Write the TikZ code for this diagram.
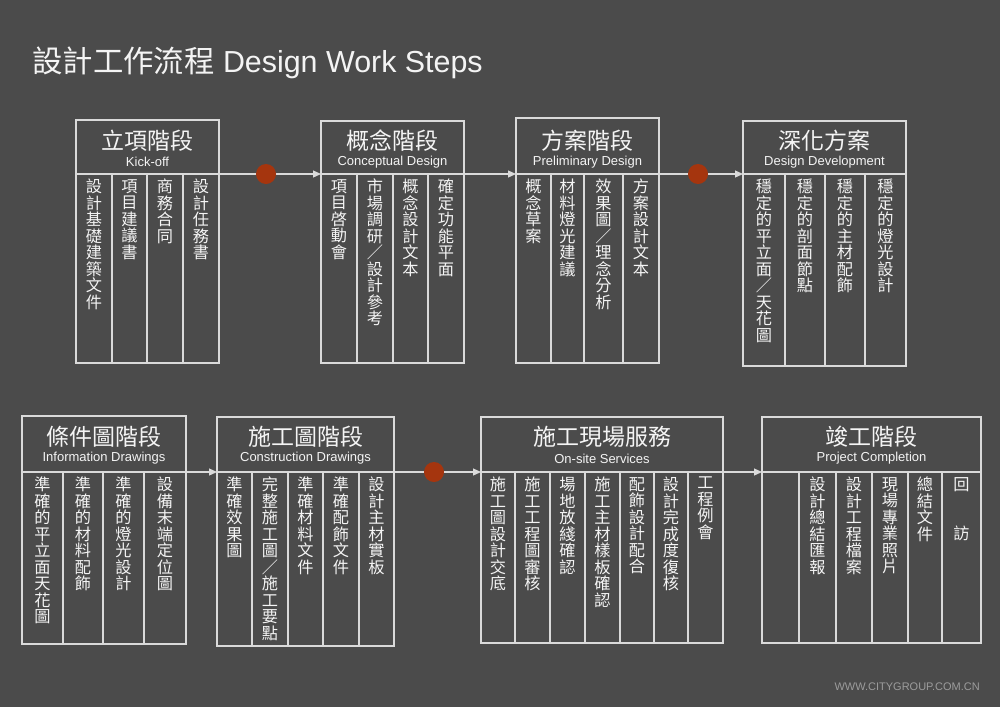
\documentclass[tikz,border=0pt]{standalone}
\usepackage{fontspec}
\setmainfont{Liberation Sans}
\newfontfamily\cjk{Noto Sans CJK TC}
\usetikzlibrary{arrows.meta,fit}
\definecolor{bg}{HTML}{4B4B4B}
\definecolor{ln}{HTML}{DADADA}
\definecolor{tx}{HTML}{F4F4F4}
\definecolor{dotc}{HTML}{A5350E}
\definecolor{ft}{HTML}{9C9C9C}
\def\vt#1{\vtA#1\vtEnd}
\def\vtA#1#2\vtEnd{#1\ifx\relax#2\relax\else\\\vtA#2\vtEnd\fi}
\def\toff{33pt}
\def\soff{12pt}
\tikzset{
  frame/.style={draw=ln, line width=1.2pt, inner sep=0pt},
  rule/.style={draw=ln, line width=1.2pt},
  conn/.style={draw=ln, line width=1.2pt, -{Triangle[length=8pt,width=7pt]}},
  ttl/.style={text=tx, font=\cjk\fontsize{23}{25}\selectfont, inner sep=0pt},
  subt/.style={text=tx, font=\fontsize{13}{15}\selectfont, inner sep=0pt},
  colt/.style={text=tx, font=\cjk\fontsize{16.2}{16.5}\selectfont, align=center, inner sep=0pt, anchor=north},
  reddot/.style={circle, fill=dotc, minimum size=20pt, inner sep=0pt},
}
% name, x1, y1, yh, x2, y2, title, subtitle
\newcommand\stage[8]{%
  \coordinate (#1-nw) at (#2,#3);
  \coordinate (#1-se) at (#5,#6);
  \node[frame, fit=(#1-nw)(#1-se)] (#1) {};
  \coordinate (#1-hl) at (#2,#4);
  \coordinate (#1-hr) at (#5,#4);
  \draw[rule] (#1-hl) -- (#1-hr);
  \node[ttl, yshift=\toff] (#1-title) at (#1.center |- #1-hl) {#7};
  \node[subt, yshift=\soff] (#1-sub) at (#1.center |- #1-hl) {#8};
}
\begin{document}
\begin{tikzpicture}[x=1pt, y=-1pt]
\useasboundingbox (0,0) rectangle (1000,707);
\fill[bg] (0,0) rectangle (1000,707);

\node[anchor=base west, text=tx, inner sep=0pt, font=\fontsize{30.4}{32}\selectfont] (title) at (32,72) {{\cjk 設計工作流程} Design Work Steps};

% ---- row 1 ----
\stage{s1}{76}{120}{174}{219}{363}{立項階段}{Kick-off}
\foreach \x in {112,147,183} \draw[rule] (\x,174) -- (\x,363);
\foreach \xa/\xb/\txt [count=\i] in {76/112/設計基礎建築文件, 112/147/項目建議書, 147/183/商務合同, 183/219/設計任務書}
  \node[colt] (s1-c\i) at ({(\xa+\xb)/2},179) {\expandafter\vt\expandafter{\txt}};

\stage{s2}{321}{121}{174}{464}{363}{概念階段}{Conceptual Design}
\foreach \x in {357,393,428} \draw[rule] (\x,174) -- (\x,363);
\foreach \xa/\xb/\txt [count=\i] in {321/357/項目啓動會, 357/393/市場調研／設計參考, 393/428/概念設計文本, 428/464/確定功能平面}
  \node[colt] (s2-c\i) at ({(\xa+\xb)/2},179) {\expandafter\vt\expandafter{\txt}};

\stage{s3}{516}{118}{174}{659}{363}{方案階段}{Preliminary Design}
\foreach \x in {551,584,623} \draw[rule] (\x,174) -- (\x,363);
\foreach \xa/\xb/\txt [count=\i] in {516/551/概念草案, 551/584/材料燈光建議, 584/623/效果圖／理念分析, 623/659/方案設計文本}
  \node[colt] (s3-c\i) at ({(\xa+\xb)/2},179) {\expandafter\vt\expandafter{\txt}};

\stage{s4}{743}{121}{174}{906}{366}{深化方案}{Design Development}
\foreach \x in {785,825,865} \draw[rule] (\x,174) -- (\x,366);
\foreach \xa/\xb/\txt [count=\i] in {743/785/穩定的平立面／天花圖, 785/825/穩定的剖面節點, 825/865/穩定的主材配飾, 865/906/穩定的燈光設計}
  \node[colt] (s4-c\i) at ({(\xa+\xb)/2},179) {\expandafter\vt\expandafter{\txt}};

\draw[conn] (s1-hr) -- (s2-hl);
\draw[conn] (s2-hr) -- (s3-hl);
\draw[conn] (s3-hr) -- (s4-hl);
\node[reddot] (d1) at (266,174) {};
\node[reddot] (d2) at (698,174) {};

% ---- row 2 ----
\def\toff{35.5pt}
\def\soff{13.5pt}
\stage{s5}{22}{416}{472}{186}{644}{條件圖階段}{Information Drawings}
\foreach \x in {63,103,144} \draw[rule] (\x,472) -- (\x,644);
\foreach \xa/\xb/\txt [count=\i] in {22/63/準確的平立面天花圖, 63/103/準確的材料配飾, 103/144/準確的燈光設計, 144/186/設備末端定位圖}
  \node[colt] (s5-c\i) at ({(\xa+\xb)/2},477) {\expandafter\vt\expandafter{\txt}};

\stage{s6}{217}{417}{472}{394}{646}{施工圖階段}{Construction Drawings}
\foreach \x in {252,288,323,359} \draw[rule] (\x,472) -- (\x,646);
\foreach \xa/\xb/\txt [count=\i] in {217/252/準確效果圖, 252/288/完整施工圖／施工要點, 288/323/準確材料文件, 323/359/準確配飾文件, 359/394/設計主材實板}
  \node[colt] (s6-c\i) at ({(\xa+\xb)/2},477) {\expandafter\vt\expandafter{\txt}};

\stage{s7}{481}{417}{472}{723}{643}{施工現場服務}{On-site Services}
\foreach \x in {515,550,585,620,654,688} \draw[rule] (\x,472) -- (\x,643);
\foreach \xa/\xb/\txt [count=\i] in {481/515/施工圖設計交底, 515/550/施工工程圖審核, 550/585/場地放綫確認, 585/620/施工主材樣板確認, 620/654/配飾設計配合, 654/688/設計完成度復核, 688/723/工程例會}
  \node[colt] (s7-c\i) at ({(\xa+\xb)/2},477) {\expandafter\vt\expandafter{\txt}};

\stage{s8}{762}{417}{472}{981}{643}{竣工階段}{Project Completion}
\foreach \x in {799,836,872,908,942} \draw[rule] (\x,472) -- (\x,643);
\foreach \xa/\xb/\txt [count=\i] in {799/836/設計總結匯報, 836/872/設計工程檔案, 872/908/現場專業照片, 908/942/總結文件}
  \node[colt] (s8-c\i) at ({(\xa+\xb)/2},477) {\expandafter\vt\expandafter{\txt}};
\node[colt] (s8-c5) at ({(942+981)/2},477) {回\\\mbox{}\\\mbox{}\\訪};

\draw[conn] (s5-hr) -- (s6-hl);
\draw[conn] (s6-hr) -- (s7-hl);
\draw[conn] (s7-hr) -- (s8-hl);
\node[reddot] (d3) at (434,472) {};

\node[anchor=east, text=ft, inner sep=0pt, font=\fontsize{11}{13}\selectfont] (footer) at (980,687) {WWW.CITYGROUP.COM.CN};
\end{tikzpicture}
\end{document}
